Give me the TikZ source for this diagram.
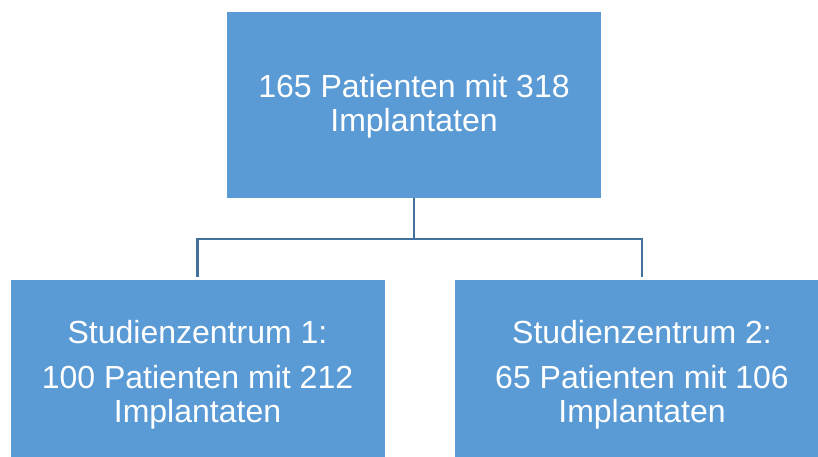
\documentclass[tikz,border=0pt]{standalone}
\usepackage{fontspec}
\setmainfont{Liberation Sans}
\definecolor{boxblue}{HTML}{5B9BD5}
\definecolor{connblue}{HTML}{41719C}
\tikzset{
  boxnode/.style={fill=boxblue, text=white, align=center, minimum width=374pt, minimum height=186pt, inner sep=0pt,
    font=\fontsize{32}{34}\selectfont},
  conn/.style={draw=connblue, line width=2.5pt}
}
\begin{document}
\begin{tikzpicture}[x=1pt,y=-1pt]
\useasboundingbox (0,0) rectangle (818,456);
\clip (0,0) rectangle (818,456);
\node[boxnode] (top) at (414,105) {\rule{0pt}{26pt}165 Patienten mit 318\\Implantaten};
\node[boxnode] (L) at (197.5,373) {\rule{0pt}{26pt}Studienzentrum 1:\\[11pt]100 Patienten mit 212\\Implantaten};
\node[boxnode] (R) at (642,373) {\rule{0pt}{26pt}Studienzentrum 2:\\[11pt]65 Patienten mit 106\\Implantaten};
\coordinate (j) at (414,239);
\draw[conn] (top.south) -- (j);
\draw[conn] ([yshift=3pt]L.north) |- (j) -| ([yshift=3pt]R.north);
\end{tikzpicture}
\end{document}
